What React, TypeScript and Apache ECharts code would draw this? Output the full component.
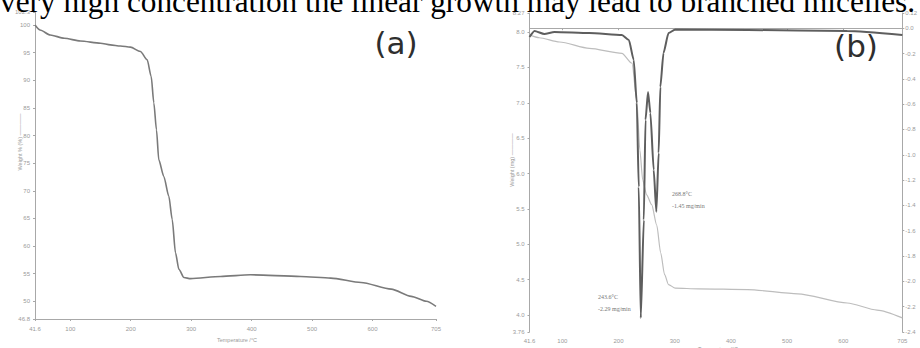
import React, { useEffect, useRef } from "react";
import * as echarts from "echarts";

const caption = "very high concentration the linear growth may lead to branched micelles.";

// Panel (a): TGA weight %
const tempA = [41.6, 50, 66.8, 90, 116.6, 150, 166.3, 183, 199.5, 216, 227.2, 233.8, 238.2, 242.6, 246.4, 254.7, 263, 268.6, 274, 279.6, 288, 299, 348.7, 398, 481, 531, 581, 631, 664, 689, 705];
const weightPctA = [100.0, 99.1, 98.2, 97.6, 97.1, 96.7, 96.4, 96.2, 96.0, 95.2, 93.7, 90.7, 85.9, 81.0, 75.6, 72.6, 69.0, 64.8, 58.8, 55.8, 54.3, 54.1, 54.5, 54.8, 54.5, 54.2, 53.4, 52.2, 50.9, 50.0, 49.1];

// Panel (b): weight (mg) and derivative weight (mg/min)
const tempBW = [41.6, 59, 95, 148, 206, 224, 232.5, 238, 243, 250, 259, 268, 275, 282, 289, 301, 342, 430, 519, 607, 660, 705];
const weightMgB = [7.96, 7.92, 7.86, 7.77, 7.70, 7.56, 7.04, 6.33, 5.91, 5.70, 5.56, 5.27, 4.88, 4.57, 4.43, 4.38, 4.37, 4.36, 4.30, 4.17, 4.07, 3.96];
const tempBD = [41.6, 50.5, 68, 86, 148, 206, 218.4, 227, 232.5, 236, 239.6, 245, 248, 252.5, 256.7, 262.6, 267.3, 271.4, 274.4, 280, 289, 301, 430, 607, 705];
const derivB = [-0.07, -0.022, -0.046, -0.03, -0.038, -0.054, -0.093, -0.25, -0.59, -1.255, -2.29, -1.515, -0.725, -0.504, -0.67, -1.12, -1.45, -0.986, -0.465, -0.196, -0.038, -0.01, -0.014, -0.022, -0.054];

// Tick labels
const xTicks = [41.6, 100, 200, 300, 400, 500, 600, 705];
const yTicksA = [46.8, 50, 55, 60, 65, 70, 75, 80, 85, 90, 95, 100, 102.3];
const yTicksBLeft = [3.76, 4.0, 4.5, 5.0, 5.5, 6.0, 6.5, 7.0, 7.5, 8.0, 8.27];
const yTicksBRight = [-2.4, -2.2, -2.0, -1.8, -1.6, -1.4, -1.2, -1.0, -0.8, -0.6, -0.4, -0.2, 0.0, 0.12];

const peak1 = ["243.6°C", "-2.29 mg/min"];
const peak2 = ["268.8°C", "-1.45 mg/min"];

const axisColor = "#a8a8a8";
const labelColor = "#9a9a9a";
const tickFont = 6;

function fmt(v: number) {
  const r = Math.round(v * 100) / 100;
  return String(r);
}
function fmt1(v: number) {
  return Math.abs(v - Math.round(v * 10) / 10) < 1e-6 ? v.toFixed(1) : fmt(v);
}

export default function App() {
  const ref = useRef<HTMLDivElement>(null);
  useEffect(() => {
    if (!ref.current) return;
    const chart = echarts.init(ref.current, undefined, { renderer: "svg" });
    const lbl = (margin: number, values: number[], f?: (v: number) => string) => ({
      show: true,
      fontSize: tickFont,
      color: labelColor,
      fontFamily: "Liberation Sans",
      margin,
      customValues: values,
      formatter: (v: number) => (f ? f(v) : fmt(v)),
    });
    const tick = (values: number[]) => ({ show: true, length: 2, lineStyle: { color: axisColor }, customValues: values });
    const line = { show: true, lineStyle: { color: axisColor, width: 1 } };
    chart.setOption({
      animation: false,
      backgroundColor: "#ffffff",
      grid: [
        { left: 35, top: 12.3, width: 401, height: 306.7 },
        { left: 529.5, top: 13, width: 377.5, height: 319 },
      ],
      xAxis: [
        { type: "value", gridIndex: 0, min: 41.6, max: 705, axisLine: line, axisTick: tick(xTicks), axisLabel: lbl(7, xTicks), splitLine: { show: false } },
        { type: "value", gridIndex: 1, min: 41.6, max: 705, axisLine: line, axisTick: tick(xTicks), axisLabel: lbl(6, xTicks), splitLine: { show: false } },
      ],
      yAxis: [
        { type: "value", gridIndex: 0, min: 46.8, max: 102.3, axisLine: line, axisTick: tick(yTicksA), axisLabel: lbl(5, yTicksA), splitLine: { show: false } },
        { type: "value", gridIndex: 1, position: "left", min: 3.76, max: 8.27, axisLine: line, axisTick: tick(yTicksBLeft), axisLabel: lbl(5, yTicksBLeft, fmt1), splitLine: { show: false } },
        { type: "value", gridIndex: 1, position: "right", min: -2.4, max: 0.12, axisLine: line, axisTick: tick(yTicksBRight), axisLabel: lbl(3, yTicksBRight, fmt1), splitLine: { show: false } },
      ],
      series: [
        {
          type: "line", xAxisIndex: 0, yAxisIndex: 0, showSymbol: false, smooth: 0.25, smoothMonotone: "x",
          lineStyle: { color: "#7a7a7a", width: 1.6 },
          data: tempA.map((t, i) => [t, weightPctA[i]]),
        },
        {
          type: "line", xAxisIndex: 1, yAxisIndex: 1, showSymbol: false, smooth: 0.25, smoothMonotone: "x",
          lineStyle: { color: "#bdbdbd", width: 1.2 },
          data: tempBW.map((t, i) => [t, weightMgB[i]]),
        },
        {
          type: "line", xAxisIndex: 1, yAxisIndex: 2, showSymbol: false, smooth: 0.2, smoothMonotone: "x",
          lineStyle: { color: "#5e5e5e", width: 2 },
          data: tempBD.map((t, i) => [t, derivB[i]]),
        },
      ],
      graphic: [
        { type: "text", x: 20, y: 142, rotation: Math.PI / 2, style: { text: "Weight % (%) ————", fontSize: 5.5, fill: "#9a9a9a", fontFamily: "Liberation Sans", align: "center", verticalAlign: "middle" } },
        { type: "text", x: 512, y: 160, rotation: Math.PI / 2, style: { text: "Weight (mg) ————", fontSize: 5.5, fill: "#9a9a9a", fontFamily: "Liberation Sans", align: "center", verticalAlign: "middle" } },
        { type: "text", x: 237, y: 340, style: { text: "Temperature /°C", fontSize: 5.5, fill: "#9a9a9a", fontFamily: "Liberation Sans", align: "center", verticalAlign: "middle" } },
        { type: "text", x: 718, y: 346, style: { text: "Temperature /°C", fontSize: 5.5, fill: "#9a9a9a", fontFamily: "Liberation Sans", align: "center", verticalAlign: "top" } },
        { type: "text", x: 396, y: 43, style: { text: "(a)", fontSize: 31, fill: "#2e2e2e", fontFamily: "DejaVu Sans", align: "center", verticalAlign: "middle" } },
        { type: "text", x: 856, y: 46, style: { text: "(b)", fontSize: 31, fill: "#2e2e2e", fontFamily: "DejaVu Sans", align: "center", verticalAlign: "middle" } },
        { type: "text", x: 598, y: 297, style: { text: peak1[0], fontSize: 6, fill: "#777777", fontFamily: "Liberation Serif", align: "left", verticalAlign: "middle" } },
        { type: "text", x: 598, y: 309, style: { text: peak1[1], fontSize: 6, fill: "#777777", fontFamily: "Liberation Serif", align: "left", verticalAlign: "middle" } },
        { type: "text", x: 672, y: 194, style: { text: peak2[0], fontSize: 6, fill: "#777777", fontFamily: "Liberation Serif", align: "left", verticalAlign: "middle" } },
        { type: "text", x: 672, y: 206, style: { text: peak2[1], fontSize: 6, fill: "#777777", fontFamily: "Liberation Serif", align: "left", verticalAlign: "middle" } },
        { type: "text", x: 0, y: 1.5, z: 100, style: { text: caption, fontSize: 31.3, fill: "#000000", fontFamily: "Liberation Serif", align: "left", verticalAlign: "middle" } },
      ],
    });
    return () => chart.dispose();
  }, []);
  return <div ref={ref} style={{ position: "fixed", left: 0, top: 0, width: 920, height: 348, background: "#fff" }} />;
}
